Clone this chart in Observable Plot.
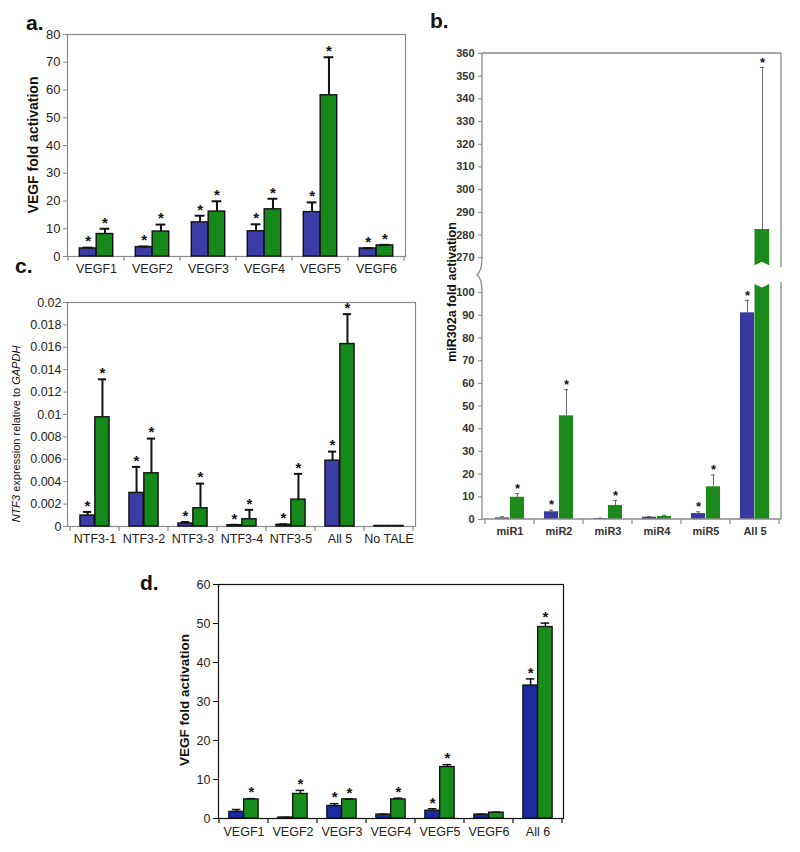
<!DOCTYPE html>
<html>
<head>
<meta charset="utf-8">
<script src="https://cdn.jsdelivr.net/npm/d3@7"></script>
<script src="https://cdn.jsdelivr.net/npm/@observablehq/plot@0.6"></script>
<style>
  body { margin: 0; background: #fff; }
  #root { position: relative; width: 800px; height: 852px; overflow: hidden; font-family: "Liberation Sans", Arial, sans-serif; color: #222; }
  .pl { position: absolute; }
  .lbl { position: absolute; font-weight: bold; font-size: 21px; line-height: 1; color: #111; }
  .yt { position: absolute; white-space: nowrap; line-height: 1; transform: translate(-50%, -50%) rotate(-90deg); color: #111; }
</style>
</head>
<body>
<div id="root"></div>
<script>
// ---------------- DATA ----------------
// a. VEGF fold activation
const aCats = ["VEGF1", "VEGF2", "VEGF3", "VEGF4", "VEGF5", "VEGF6"];
const aBlue = [2.9, 3.4, 12.3, 9.1, 16.0, 2.9];
const aBlueErr = [3.2, 3.6, 14.7, 11.6, 19.5, 3.0];
const aGreen = [8.1, 9.0, 16.2, 17.0, 58.1, 4.0];
const aGreenErr = [10.0, 11.5, 19.9, 20.8, 71.8, 4.2];
const aBlueStar = [1, 1, 1, 1, 1, 1];
const aGreenStar = [1, 1, 1, 1, 1, 1];
const aTicks = [0, 10, 20, 30, 40, 50, 60, 70, 80];

// b. miR302a fold activation (broken axis)
const bCats = ["miR1", "miR2", "miR3", "miR4", "miR5", "All 5"];
const bBlue = [0.7, 3.4, 0.4, 1.0, 2.6, 91.1];
const bBlueErr = [1.2, 4.1, 0.6, 1.3, 3.4, 96.6];
const bGreen = [9.8, 45.7, 6.2, 1.3, 14.4, 282.4];
const bGreenErr = [11.4, 57.2, 8.4, 1.8, 19.6, 353.8];
const bBlueStar = [0, 1, 0, 0, 1, 1];
const bGreenStar = [1, 1, 1, 0, 1, 1];
const bTicksLow = [0, 10, 20, 30, 40, 50, 60, 70, 80, 90, 100];
const bTicksHigh = [270, 280, 290, 300, 310, 320, 330, 340, 350, 360];
const bBreakLow = 100, bBreakHigh = 270, bGap = 15.4;

// c. NTF3 expression relative to GAPDH
const cCats = ["NTF3-1", "NTF3-2", "NTF3-3", "NTF3-4", "NTF3-5", "All 5", "No TALE"];
const cBlue = [0.00098, 0.0030, 0.00027, 0.00012, 0.00015, 0.00588, 0.00005];
const cBlueErr = [0.0013, 0.00532, 0.0004, 0.00015, 0.0002, 0.00669, 0.00005];
const cGreen = [0.00975, 0.00475, 0.00163, 0.00065, 0.0024, 0.01629, 0.00005];
const cGreenErr = [0.01314, 0.00785, 0.00383, 0.00149, 0.0047, 0.01896, 0.00005];
const cBlueStar = [1, 1, 1, 1, 1, 1, 0];
const cGreenStar = [1, 1, 1, 1, 1, 1, 0];
const cTicks = [0, 0.002, 0.004, 0.006, 0.008, 0.01, 0.012, 0.014, 0.016, 0.018, 0.02];

// d. VEGF fold activation
const dCats = ["VEGF1", "VEGF2", "VEGF3", "VEGF4", "VEGF5", "VEGF6", "All 6"];
const dBlue = [1.7, 0.25, 3.2, 1.0, 2.0, 1.0, 34.1];
const dBlueErr = [2.3, 0.3, 3.8, 1.1, 2.5, 1.1, 35.8];
const dGreen = [4.9, 6.3, 4.9, 4.9, 13.2, 1.5, 49.1];
const dGreenErr = [5.1, 7.2, 5.0, 5.2, 13.8, 1.6, 50.1];
const dBlueStar = [0, 0, 1, 0, 1, 0, 1];
const dGreenStar = [1, 1, 1, 1, 1, 0, 1];
const dTicks = [0, 10, 20, 30, 40, 50, 60];

// ---------------- HELPERS ----------------
const root = document.getElementById("root");
const bOffset = bBreakLow + bGap - bBreakHigh;
const bf = v => v >= bBreakHigh ? v + bOffset : v;

function rowsOf(cats, vals, errs, stars, f) {
  return cats.map((c, i) => ({cat: c, v: f(vals[i]), e: f(errs[i]), raw: vals[i], star: !!stars[i]}));
}

// tick marks at category boundaries below the x axis
const bandTicks = (len, color, sw) => (index, s, values, dims) => {
  const x = s.x, bw = x.bandwidth(), y0 = dims.height - dims.marginBottom;
  const dom = x.domain();
  const xs = dom.map(d => x(d)).concat([x(dom[dom.length - 1]) + bw]);
  const g = d3.create("svg:g");
  g.selectAll("line").data(xs).join("line")
    .attr("x1", d => d).attr("x2", d => d)
    .attr("y1", y0).attr("y2", y0 + len)
    .attr("stroke", color).attr("stroke-width", sw);
  return g.node();
};

function panel(o) {
  const f = o.f || (v => v);
  const n = o.cats.length;
  const bw = (o.width - o.ml - o.mr) / n;
  const blue = rowsOf(o.cats, o.blue, o.blueErr, o.blueStar, f);
  const green = rowsOf(o.cats, o.green, o.greenErr, o.greenStar, f);
  const broken = o.broken || (() => false);
  const capL = 0.35 - o.cap, capR = 0.65 - o.cap;
  const marks = [];
  if (!o.customFrame) marks.push(Plot.frame({stroke: o.frameColor, strokeWidth: o.frameSW}));
  marks.push(
    Plot.barY(blue, {x: "cat", y: "v", fill: o.blueColor, stroke: o.barStroke, strokeWidth: o.barSW,
      insetLeft: 0.2 * bw, insetRight: 0.5 * bw}),
    Plot.barY(green.filter(d => !broken(d)), {x: "cat", y: "v", fill: o.greenColor, stroke: o.barStroke, strokeWidth: o.barSW,
      insetLeft: 0.5 * bw, insetRight: 0.2 * bw}),
    Plot.ruleX(blue.filter(d => d.e > d.v), {x: "cat", y1: "v", y2: "e", dx: -0.15 * bw, stroke: o.errColor, strokeWidth: o.errSW}),
    Plot.ruleX(green.filter(d => d.e > d.v), {x: "cat", y1: "v", y2: "e", dx: 0.15 * bw, stroke: o.errColor, strokeWidth: o.errSW}),
    Plot.tickY(blue.filter(d => d.e > d.v), {x: "cat", y: "e", insetLeft: capL * bw, insetRight: capR * bw, stroke: o.errColor, strokeWidth: o.errSW}),
    Plot.tickY(green.filter(d => d.e > d.v), {x: "cat", y: "e", insetLeft: capR * bw, insetRight: capL * bw, stroke: o.errColor, strokeWidth: o.errSW}),
    Plot.text(blue.filter(d => d.star), {x: "cat", y: "e", text: () => "*", dx: -0.15 * bw, dy: o.starDy, fontSize: o.starSize, fontWeight: "bold", fill: "#111"}),
    Plot.text(green.filter(d => d.star), {x: "cat", y: "e", text: () => "*", dx: 0.15 * bw, dy: o.starDy, fontSize: o.starSize, fontWeight: "bold", fill: "#111"}),
    Plot.axisY(o.ticks, {tickSize: o.tickSize, tickPadding: o.tickPad, fontSize: o.yFont, fontWeight: o.yWeight,
      tickFormat: o.tickFormat, stroke: o.frameColor, fill: o.textColor, label: null}),
    Plot.axisX({tickSize: 0, tickPadding: o.xPad, fontSize: o.xFont, fontWeight: o.xWeight, fill: o.textColor, label: null}),
    bandTicks(o.bandTick, o.frameColor, o.frameSW)
  );
  if (o.extra) marks.push(o.extra);
  const svg = Plot.plot({
    width: o.width, height: o.height,
    marginLeft: o.ml, marginRight: o.mr, marginTop: o.mt, marginBottom: o.mb,
    x: {domain: o.cats, padding: 0, axis: null},
    y: {domain: o.yDomain, axis: null},
    style: {fontFamily: "'Liberation Sans', Arial, sans-serif", background: "transparent", color: "#222", overflow: "visible"},
    marks
  });
  const wrap = document.createElement("div");
  wrap.className = "pl";
  wrap.style.left = o.left + "px";
  wrap.style.top = o.top + "px";
  wrap.appendChild(svg);
  root.appendChild(wrap);
}

function addText(cls, html, left, top, style) {
  const d = document.createElement("div");
  d.className = cls;
  d.innerHTML = html;
  d.style.left = left + "px";
  d.style.top = top + "px";
  Object.assign(d.style, style || {});
  root.appendChild(d);
}

// ---------------- PANEL a ----------------
panel({
  left: 0, top: 0, width: 420, height: 290, ml: 67, mr: 15, mt: 34, mb: 34,
  cats: aCats, blue: aBlue, blueErr: aBlueErr, green: aGreen, greenErr: aGreenErr,
  blueStar: aBlueStar, greenStar: aGreenStar, yDomain: [0, 80], ticks: aTicks,
  blueColor: "#3b3ca6", greenColor: "#15891a", barStroke: "#111", barSW: 1.4,
  errColor: "#111", errSW: 2, cap: 0.09, starDy: -6, starSize: 15,
  frameColor: "#8a8a8a", frameSW: 1.2, tickSize: 4, tickPad: 3, yFont: 13, yWeight: "normal",
  xPad: 8, xFont: 12.5, xWeight: "normal", textColor: "#222", bandTick: 5
});

// ---------------- PANEL b ----------------
const bLowTop = bBreakLow + 3.6, bUpBottom = bBreakLow + bGap - 3.6;
const bExtra = (index, s, values, dims) => {
  const x = s.x, y = s.y, bw = x.bandwidth();
  const g = d3.create("svg:g");
  const xl = dims.marginLeft, xr = dims.width - dims.marginRight;
  const yTop = dims.marginTop, y0 = y(0);
  const col = "#8a8a8a";
  // broken bars (green exceeding the break)
  bCats.forEach((c, i) => {
    if (bGreen[i] < bBreakHigh) return;
    const x0 = x(c) + 0.5 * bw, x1 = x(c) + 0.8 * bw, xm = (x0 + x1) / 2;
    const yl = y(bLowTop), yu = y(bUpBottom), yt = y(bf(bGreen[i])), nt = 3.5;
    g.append("path").attr("d", `M${x0},${y0}L${x0},${yl}L${xm},${yl + nt}L${x1},${yl}L${x1},${y0}Z`).attr("fill", "#1b8a1b");
    g.append("path").attr("d", `M${x0},${yt}L${x1},${yt}L${x1},${yu}L${xm},${yu - nt}L${x0},${yu}Z`).attr("fill", "#1b8a1b");
  });
  // frame: top, right (broken), bottom, left (broken with squiggle)
  const yHi = y(bf(bBreakHigh)), yLo = y(bBreakLow), ym = (yHi + yLo) / 2;
  const p = [
    `M${xl},${yTop}L${xr},${yTop}`,
    `M${xr},${yTop}L${xr},${y(bUpBottom) + 2}`,
    `M${xr},${y(bLowTop) - 2}L${xr},${y0}`,
    `M${xl},${y0}L${xr},${y0}`,
    `M${xl},${yTop}L${xl},${yHi}C${xl},${ym - 8} ${xl - 1},${ym - 3} ${xl - 5},${ym}C${xl - 1},${ym + 3} ${xl},${ym + 8} ${xl},${yLo}L${xl},${y0}`
  ];
  g.append("path").attr("d", p.join("")).attr("fill", "none").attr("stroke", col).attr("stroke-width", 1.3);
  return g.node();
};
panel({
  left: 420, top: 30, width: 380, height: 540, ml: 62, mr: 19, mt: 23, mb: 51,
  cats: bCats, blue: bBlue, blueErr: bBlueErr, green: bGreen, greenErr: bGreenErr,
  blueStar: bBlueStar, greenStar: bGreenStar, f: bf, broken: d => d.raw >= bBreakHigh,
  yDomain: [0, bf(360)], ticks: bTicksLow.concat(bTicksHigh.map(bf)),
  tickFormat: d => d > bBreakLow + 1 ? String(Math.round(d - bOffset)) : String(d),
  blueColor: "#383aa0", greenColor: "#1b8a1b", barStroke: "none", barSW: 0,
  errColor: "#666", errSW: 1, cap: 0.05, starDy: -5, starSize: 13,
  frameColor: "#8a8a8a", frameSW: 1.2, tickSize: 4, tickPad: 4, yFont: 11, yWeight: "bold",
  xPad: 8, xFont: 11, xWeight: "bold", textColor: "#333", bandTick: 5,
  customFrame: true, extra: bExtra
});

// ---------------- PANEL c ----------------
panel({
  left: 0, top: 290, width: 420, height: 270, ml: 67, mr: 5, mt: 12, mb: 34,
  cats: cCats, blue: cBlue, blueErr: cBlueErr, green: cGreen, greenErr: cGreenErr,
  blueStar: cBlueStar, greenStar: cGreenStar, yDomain: [0, 0.02], ticks: cTicks,
  tickFormat: d => String(+d.toFixed(3)),
  blueColor: "#3b3ca6", greenColor: "#15891a", barStroke: "#111", barSW: 1.4,
  errColor: "#111", errSW: 2, cap: 0.09, starDy: -6, starSize: 15,
  frameColor: "#8a8a8a", frameSW: 1.2, tickSize: 4, tickPad: 2, yFont: 12.5, yWeight: "normal",
  xPad: 8, xFont: 12.5, xWeight: "normal", textColor: "#222", bandTick: 5
});

// ---------------- PANEL d ----------------
panel({
  left: 160, top: 570, width: 460, height: 282, ml: 58, mr: 57, mt: 14, mb: 34,
  cats: dCats, blue: dBlue, blueErr: dBlueErr, green: dGreen, greenErr: dGreenErr,
  blueStar: dBlueStar, greenStar: dGreenStar, yDomain: [0, 60], ticks: dTicks,
  blueColor: "#1b2a9e", greenColor: "#168c1a", barStroke: "#111", barSW: 1.3,
  errColor: "#111", errSW: 1.5, cap: 0.09, starDy: -6, starSize: 15,
  frameColor: "#111", frameSW: 1.2, tickSize: 5, tickPad: 3, yFont: 12.5, yWeight: "normal",
  xPad: 9, xFont: 12.5, xWeight: "normal", textColor: "#222", bandTick: 5
});

// ---------------- TITLES & LABELS ----------------
addText("yt", "VEGF fold activation", 33, 145, {fontSize: "14px", fontWeight: "bold"});
addText("yt", "miR302a fold activation", 452, 292, {fontSize: "12.5px", fontWeight: "bold"});
addText("yt", "<i>NTF3</i> expression relative to <i>GAPDH</i>", 16, 434, {fontSize: "11px"});
addText("yt", "VEGF fold activation", 185, 700, {fontSize: "13.5px", fontWeight: "bold"});

addText("lbl", "a.", 26, 12);
addText("lbl", "b.", 430, 10);
addText("lbl", "c.", 15, 255);
addText("lbl", "d.", 140, 572);
</script>
</body>
</html>
